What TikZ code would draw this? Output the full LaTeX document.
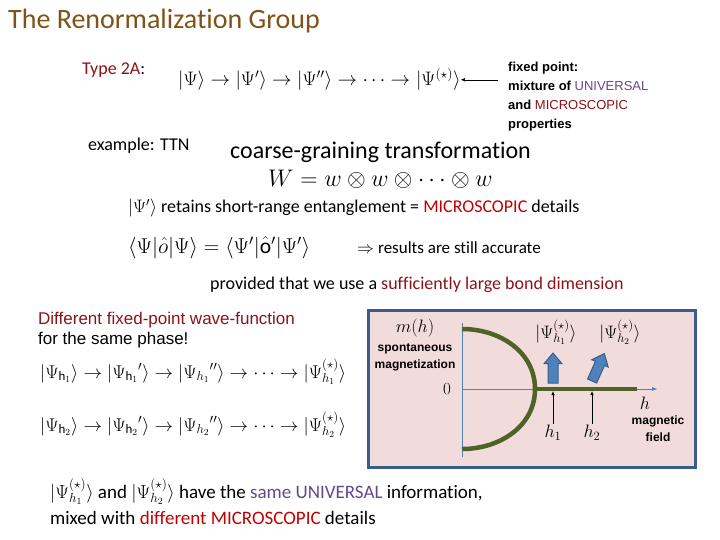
\documentclass[tikz,border=0pt]{standalone}
\usepackage{fix-cm}
\usepackage{fontspec}
\setmainfont{Carlito}[Ligatures=NoCommon]
\newfontfamily\tahoma{Liberation Sans}
\usetikzlibrary{arrows.meta,shapes.arrows}
\definecolor{umber}{RGB}{128,82,24}
\definecolor{wine}{RGB}{140,18,24}
\definecolor{scarlet}{RGB}{192,0,0}
\definecolor{plum}{RGB}{100,72,140}
\definecolor{blush}{RGB}{242,220,219}
\definecolor{slate}{RGB}{56,93,138}
\definecolor{steel}{RGB}{79,129,189}
\definecolor{olive}{RGB}{79,98,40}
\newcommand\fsz[1]{\fontsize{#1}{#1}\selectfont}
\tikzset{
  >={Latex[length=4pt,width=3.5pt]},
  txt/.style={anchor=base west,inner sep=0pt,font=\fsz{#1}},
  txt/.default=18,
  note/.style={anchor=base west,inner sep=0pt,font=\tahoma\bfseries\fsz{13}},
  lbl/.style={inner sep=0pt,align=center,font=\tahoma\bfseries\fontsize{12}{17}\selectfont},
  mth/.style={inner sep=0pt,font=\fsz{#1}},
  mth/.default=18,
  axis/.style={steel,line width=1pt},
  curve/.style={olive,line width=4.5pt},
  panel/.style={draw=slate,fill=blush,line width=3pt},
  spin/.style={single arrow,draw=slate,fill=steel,line width=1pt,inner xsep=0pt,inner ysep=4.5pt,
    minimum height=30pt,minimum width=17pt,single arrow head extend=4pt,single arrow tip angle=80},
  tick/.style={->,line width=1pt,shorten >=2pt,shorten <=1pt},
}
\begin{document}
\begin{tikzpicture}[x=1pt,y=-1pt]
\useasboundingbox (0,0) rectangle (720,540);
\node[txt=28,text=umber] (title) at (8,29) {The Renormalization Group};
% type 2A flow
\node[txt] (type) at (82,75) {\textcolor{wine}{Type 2A}:};
\node[txt=19.5] (chain) at (178,86) {$|\Psi\rangle \to |\Psi'\rangle \to |\Psi''\rangle \to \cdots \to$};
\node[txt=19.5] (fix) at (chain.base east) {$\;|\Psi^{(\star)}\rangle$};
\foreach \s [count=\i] in {{fixed point:},{mixture of {\mdseries\color{plum}UNIVERSAL}},
    {and {\mdseries\color{wine}MICROSCOPIC}},{properties}}
  \node[note] (note\i) at (508,53+19*\i) {\s};
\draw[->] ([xshift=-10pt]note1.west |- fix.east) -- (fix.east);
% example
\node[txt] (ttn) at (88,151) {example: TTN};
\node[txt=24] (coarse) at (230,159) {coarse-graining transformation};
\node[txt=24] (weq) at (268,187) {$W = w \otimes w \otimes \cdots \otimes w$};
\node[txt=18] (retains) at (128,213) {$|\Psi'\rangle$ retains short-range entanglement = \textcolor{scarlet}{MICROSCOPIC} details};
\node[txt=21.5] (expect) at (128,253) {$\langle\Psi|\hat{o}|\Psi\rangle = \langle\Psi'|\hat{\mathrm{o}}'|\Psi'\rangle$};
\node[txt=17] (accurate) at (357,254) {$\Rightarrow$\ results are still accurate};
\node[txt=18] (provided) at (210,289) {provided that we use a \textcolor{wine}{sufficiently large bond dimension}};
% two fields
\node[txt,font=\tahoma\fsz{17}] (diff1) at (38,324) {\textcolor{wine}{Different fixed-point wave-function}};
\node[txt,font=\tahoma\fsz{17}] (diff2) at (38,344) {for the same phase!};
\node[txt=18.5] (chainA) at (40,378) {$|\Psi_{\mathrm{h}_1}\rangle \to |{\Psi_{\mathrm{h}_1}}'\rangle \to |{\Psi_{h_1}}''\rangle \to \cdots \to |\Psi^{(\star)}_{h_1}\rangle$};
\node[txt=18.5] (chainB) at (40,431) {$|\Psi_{\mathrm{h}_2}\rangle \to |{\Psi_{\mathrm{h}_2}}'\rangle \to |{\Psi_{h_2}}''\rangle \to \cdots \to |\Psi^{(\star)}_{h_2}\rangle$};
% magnetization plot
\draw[panel] (368,310) rectangle (695,467);
\coordinate (o) at (462,389);
\coordinate (ytop) at (462,323);
\coordinate (ybot) at (462,457);
\coordinate (xend) at (658,389);
\draw[axis] (ytop) -- (ybot);
\draw[axis,-{Latex[length=6pt,width=4pt]}] (o) -- (xend);
\coordinate (hc) at (535,389);
\coordinate (hend) at (637,389);
\draw[curve] (462,329) .. controls (500,329) and (535,352) .. (hc) .. controls (535,426) and (500,449) .. (462,449);
\draw[curve] (hc) -- (hend);
\node[mth] (mh) at (415,328) {$m(h)$};
\node[lbl] (spont) at (415,357) {spontaneous\\magnetization};
\node[mth=17] (zero) at (447,389) {$0$};
\node[mth] (hlab) at (645,403) {$h$};
\node[lbl] (field) at (658,429) {magnetic\\field};
\node[mth] (h1) at (553,433) {$h_1$};
\node[mth] (h2) at (592,433) {$h_2$};
\draw[tick] (h1.north) -- (h1.north |- o);
\draw[tick] (h2.north) -- (h2.north |- o);
\node[spin,rotate=90] (s1) at (553,371) {};
\node[spin,rotate=66] (s2) at (597,370) {};
\node[mth] (k1) at (556,332) {$|\Psi^{(\star)}_{h_1}\rangle$};
\node[mth] (k2) at (620,332) {$|\Psi^{(\star)}_{h_2}\rangle$};
% conclusion
\node[txt=19] (same1) at (50,498) {$|\Psi^{(\star)}_{h_1}\rangle$\ and $|\Psi^{(\star)}_{h_2}\rangle$ have the \textcolor{plum}{same UNIVERSAL} information,};
\node[txt=19] (same2) at (50,524) {mixed with \textcolor{scarlet}{different MICROSCOPIC} details};
\end{tikzpicture}
\end{document}
